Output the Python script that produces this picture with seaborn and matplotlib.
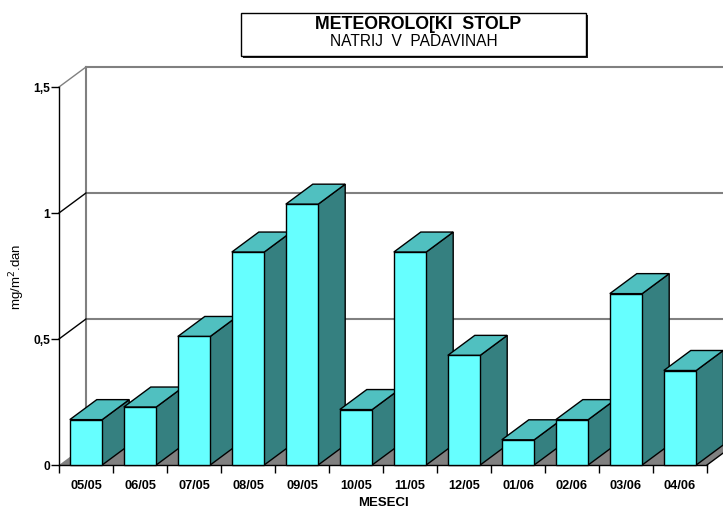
import numpy as np
import pandas as pd
import matplotlib
matplotlib.use('Agg')
import matplotlib.pyplot as plt
from matplotlib.patches import Polygon, Rectangle
import seaborn as sns

months = ['05/05', '06/05', '07/05', '08/05', '09/05', '10/05',
          '11/05', '12/05', '01/06', '02/06', '03/06', '04/06']
values = [0.18, 0.23, 0.51, 0.845, 1.035, 0.22, 0.845, 0.435, 0.10, 0.18, 0.68, 0.375]
yticks = [0, 0.5, 1, 1.5]
ytick_labels = ['0', '0,5', '1', '1,5']

FRONT = '#66ffff'
TOP = '#50c0c0'
SIDE = '#358080'
FLOOR = '#808080'
GRID = '#808080'
DX, DY = 0.5, 0.0794  # depth offset in data units

plt.rcParams['font.family'] = ['Liberation Sans', 'DejaVu Sans']

fig = plt.figure(figsize=(7.23, 5.11), dpi=100)
ax = fig.add_axes([59/723, 46/511, 648/723, 378/511])

df = pd.DataFrame({'mesec': months, 'vrednost': values})
sns.barplot(data=df, x='mesec', y='vrednost', color=FRONT, saturation=1,
            width=0.6, edgecolor='black', linewidth=1, ax=ax)
ax.set_xlim(-0.5, 11.5)
ax.set_ylim(0, 1.5)

# floor
ax.add_patch(Polygon([(-0.5, 0), (11.5, 0), (11.5 + DX, DY), (-0.5 + DX, DY)],
                     closed=True, fc=FLOOR, ec='none', zorder=1, clip_on=False))
ax.plot([11.5, 11.5 + DX], [0, DY], color='black', lw=1, zorder=2, clip_on=False)

# back wall
ax.plot([-0.5 + DX, -0.5 + DX], [DY, 1.5 + DY], color=GRID, lw=1.5, zorder=0.5, clip_on=False)
for v in [0.5, 1, 1.5]:
    ax.plot([-0.5 + DX, 14], [v + DY, v + DY], color=GRID, lw=1.5, zorder=0.5, clip_on=False)
    ax.plot([-0.5, -0.5 + DX], [v, v + DY], color=GRID if v == 1.5 else 'black',
            lw=1, zorder=0.6, clip_on=False)

# 3d bars
for i, bar in enumerate(ax.patches[:len(values)]):
    x0 = bar.get_x()
    w = bar.get_width()
    h = bar.get_height()
    z = 3 + i * 0.1
    bar.set_zorder(z + 0.05)
    bar.set_clip_on(False)
    ax.add_patch(Polygon([(x0 + w, 0), (x0 + w + DX, DY), (x0 + w + DX, h + DY), (x0 + w, h)],
                         closed=True, fc=SIDE, ec='black', lw=1, zorder=z, clip_on=False))
    ax.add_patch(Polygon([(x0, h), (x0 + w, h), (x0 + w + DX, h + DY), (x0 + DX, h + DY)],
                         closed=True, fc=TOP, ec='black', lw=1, zorder=z, clip_on=False))

for s in ['top', 'right']:
    ax.spines[s].set_visible(False)
for s in ['left', 'bottom']:
    ax.spines[s].set_color('black')
    ax.spines[s].set_linewidth(1)
    ax.spines[s].set_zorder(2)

ax.set_yticks(yticks, ytick_labels)
ax.tick_params(axis='y', length=5.5, width=1, direction='out', labelsize=8.7, pad=1)
ax.set_xticks(range(len(months)), months)
ax.set_xticks(np.arange(-0.5, 12, 1), minor=True)
ax.tick_params(axis='x', which='major', length=0, pad=10.5, labelsize=9.2)
ax.tick_params(axis='x', which='minor', length=6, width=1, direction='out')
for lbl in ax.get_xticklabels() + ax.get_yticklabels():
    lbl.set_fontweight('bold')

ax.set_ylabel('mg/m$^2$.dan', fontsize=9.5)
ax.yaxis.set_label_coords(-0.064, 0.497)
ax.yaxis.label.set_va('center')
ax.set_xlabel('MESECI', fontsize=9.5, fontweight='bold')
ax.xaxis.set_label_coords(0.5, -0.1005)
ax.xaxis.label.set_va('center')

# title box
fig.patches.append(Rectangle((243/723, 1 - 58.5/511), 345/723, 43/511, fc='#202020', ec='none',
                             transform=fig.transFigure, figure=fig))
fig.patches.append(Rectangle((241/723, 1 - 56/511), 345/723, 43/511, fc='white', ec='black', lw=1,
                             transform=fig.transFigure, figure=fig))
fig.text(418/723, 1 - 24.6/511, 'METEOROLO[KI  STOLP', ha='center', va='center',
         fontsize=12.8, fontweight='bold')
fig.text(414/723, 1 - 41.7/511, 'NATRIJ  V  PADAVINAH', ha='center', va='center', fontsize=11.2)

fig.savefig('out.png', dpi=100)
